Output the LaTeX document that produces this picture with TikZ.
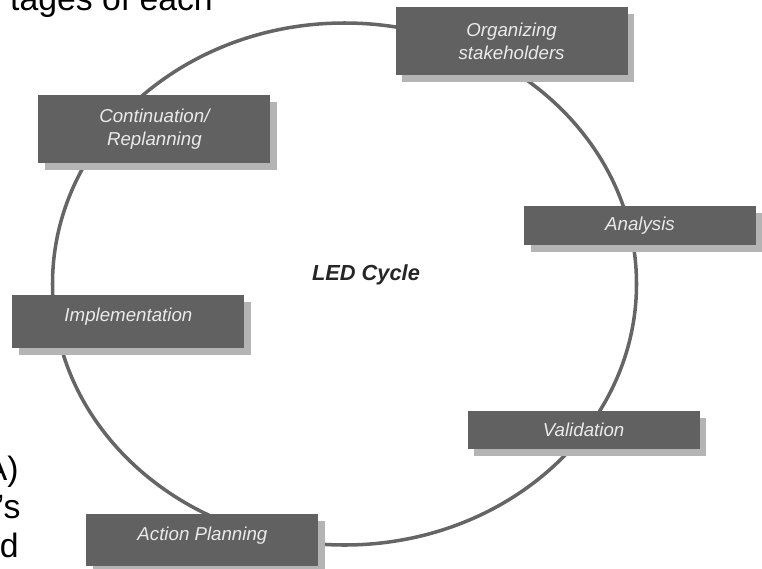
\documentclass[tikz,border=0pt]{standalone}
\usepackage{fontspec}
\setmainfont{Liberation Sans}
\usetikzlibrary{shadows}

\definecolor{boxgrey}{HTML}{616161}
\definecolor{shadowgrey}{HTML}{B4B4B4}
\definecolor{ringgrey}{HTML}{656565}
\definecolor{labelgrey}{HTML}{EAEAEA}

\begin{document}
\begin{tikzpicture}[
  stage/.style={fill=boxgrey, inner sep=0pt, minimum width=5.8cm, align=center, text=labelgrey,
    font=\fontsize{13.3pt}{16.4pt}\selectfont\itshape,
    drop shadow={shadow xshift=0.17cm, shadow yshift=-0.18cm, fill=shadowgrey, opacity=1}},
  lowtext/.style={text height=0.3cm, text depth=0.3cm},
  bodytext/.style={font=\fontsize{24pt}{28pt}\selectfont, anchor=base east, inner sep=0pt}]
  \useasboundingbox (0,0) rectangle (19.05,-14.2);
  \clip (0,0) rectangle (19.05,-14.2);

  % the cycle itself
  \draw[ringgrey, line width=2.5pt] (8.6125,-7.1) ellipse [x radius=7.3cm, y radius=6.525cm];

  % stages round the cycle
  \node[stage, minimum height=1.7cm] (stakeholders) at (12.79,-1.025) {Organizing\\stakeholders};
  \node[stage, minimum height=0.975cm] (analysis) at (16.0,-5.64) {Analysis};
  \node[stage, minimum height=0.95cm] (validation) at (14.59,-10.75) {Validation};
  \node[stage, lowtext, minimum height=1.3cm] (actionplan) at (5.06,-13.5) {Action Planning};
  \node[stage, lowtext, minimum height=1.325cm] (implementation) at (3.21,-8.04) {Implementation};
  \node[stage, minimum height=1.7cm] (replanning) at (3.86,-3.225) {Continuation/\\Replanning};

  \node[font=\fontsize{15.5pt}{18pt}\selectfont\bfseries\itshape, text=black!85] (ledcycle) at (9.15,-6.875) {LED Cycle};

  % running text cut off at the edges
  \node[bodytext] (texttop) at (5.325,-0.25) {tages of each};
  \node[bodytext] (textA) at (0.47,-12.0) {A)};
  \node[bodytext] (textS) at (0.52,-12.95) {’s};
  \node[bodytext] (textD) at (0.47,-13.925) {d};
\end{tikzpicture}
\end{document}
